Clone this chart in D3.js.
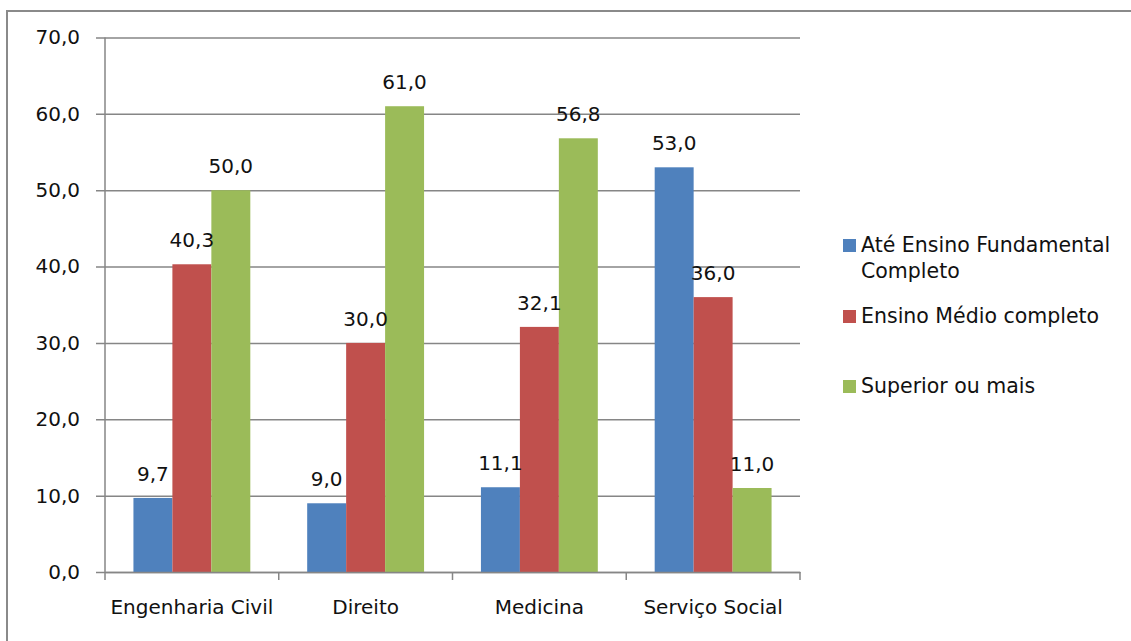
<!DOCTYPE html>
<html>
<head>
<meta charset="utf-8">
<script src="https://cdn.jsdelivr.net/npm/d3@7"></script>
<style>
  html, body { margin: 0; padding: 0; background: #fff; }
  svg { display: block; }
  text { font-family: "DejaVu Sans", sans-serif; fill: #111; }
</style>
</head>
<body>
<svg id="chart" width="1131" height="641"></svg>
<script>
// Course categories along the x axis
const categories = ["Engenharia Civil", "Direito", "Medicina", "Serviço Social"];
// Education level of parents, percentages per course
const seriesNames = ["Até Ensino Fundamental Completo", "Ensino Médio completo", "Superior ou mais"];
const fundamental = [9.7, 9.0, 11.1, 53.0];
const medio = [40.3, 30.0, 32.1, 36.0];
const superior = [50.0, 61.0, 56.8, 11.0];
const yTicks = [0, 10, 20, 30, 40, 50, 60, 70];
const colors = ["#4F81BD", "#C0504D", "#9BBB59"];

const series = [fundamental, medio, superior];
const fmt = v => v.toFixed(1).replace(".", ",");
const FS = 20;

const svg = d3.select("#chart");

// Outer chart frame (top and left edges visible)
svg.append("path")
  .attr("d", "M7,641 V11 H1131")
  .attr("fill", "none")
  .attr("stroke", "#8a8a8a")
  .attr("stroke-width", 2);

const plot = { left: 105, right: 800, top: 37.5, bottom: 572 };

const x = d3.scaleBand().domain(categories).range([plot.left, plot.right]).paddingInner(0).paddingOuter(0);
const y = d3.scaleLinear().domain([0, 70]).range([plot.bottom, plot.top]);
const x1 = d3.scaleBand().domain(d3.range(series.length)).range([0, x.bandwidth()]).paddingOuter(0.73).paddingInner(0);

// Horizontal gridlines with left tick stubs
const yAxis = d3.axisLeft(y).tickValues(yTicks).tickSize(-(plot.right - plot.left)).tickFormat(fmt).tickPadding(25);
const gy = svg.append("g").attr("transform", `translate(${plot.left},0)`).call(yAxis);
gy.select(".domain").remove();
gy.selectAll(".tick line").attr("stroke", "#868686").attr("stroke-width", 1.5).attr("x1", -9);
gy.selectAll(".tick text").attr("font-size", FS).attr("fill", "#111").attr("font-family", "DejaVu Sans, sans-serif");

// Vertical axis line
svg.append("line")
  .attr("x1", plot.left).attr("x2", plot.left)
  .attr("y1", plot.top).attr("y2", plot.bottom)
  .attr("stroke", "#868686").attr("stroke-width", 1.5);

// Bars
categories.forEach((c, ci) => {
  series.forEach((s, si) => {
    svg.append("rect")
      .attr("x", x(c) + x1(si))
      .attr("y", y(s[ci]))
      .attr("width", x1.bandwidth())
      .attr("height", y(0) - y(s[ci]))
      .attr("fill", colors[si]);
  });
});

// X axis with category separators
const xAxis = d3.axisBottom(x).tickSize(0).tickPadding(28);
const gx = svg.append("g").attr("transform", `translate(0,${plot.bottom})`).call(xAxis);
gx.select(".domain").attr("stroke", "#868686").attr("stroke-width", 1.5);
gx.selectAll(".tick text").attr("font-size", FS).attr("fill", "#111").attr("font-family", "DejaVu Sans, sans-serif");
const seps = d3.range(categories.length + 1).map(i => i < categories.length ? x(categories[i]) : plot.right);
svg.selectAll("line.sep").data(seps).join("line")
  .attr("class", "sep")
  .attr("x1", d => d).attr("x2", d => d)
  .attr("y1", plot.bottom).attr("y2", plot.bottom + 8)
  .attr("stroke", "#868686").attr("stroke-width", 1.5);

// Value labels above bars
categories.forEach((c, ci) => {
  series.forEach((s, si) => {
    svg.append("text")
      .attr("x", x(c) + x1(si) + x1.bandwidth() / 2)
      .attr("y", y(s[ci]) - 17)
      .attr("text-anchor", "middle")
      .attr("font-size", FS)
      .text(fmt(s[ci]));
  });
});

// Legend
const legend = [
  { lines: ["Até Ensino Fundamental", "Completo"], y: 245 },
  { lines: ["Ensino Médio completo"], y: 316 },
  { lines: ["Superior ou mais"], y: 386 }
];
legend.forEach((l, i) => {
  svg.append("rect")
    .attr("x", 843).attr("y", l.y - 6)
    .attr("width", 13).attr("height", 13)
    .attr("fill", colors[i]);
  const t = svg.append("text")
    .attr("x", 861).attr("y", l.y + 7)
    .attr("font-size", 20.5);
  l.lines.forEach((ln, j) => {
    t.append("tspan").attr("x", 861).attr("dy", j === 0 ? 0 : 26).text(ln);
  });
});
</script>
</body>
</html>
